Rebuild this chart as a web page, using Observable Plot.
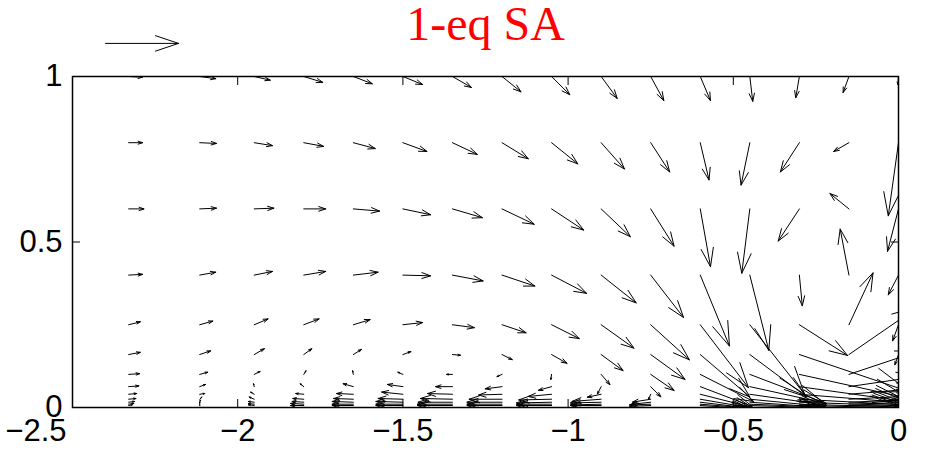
<!DOCTYPE html>
<html><head><meta charset="utf-8">
<script src="https://cdn.jsdelivr.net/npm/d3@7"></script>
<script src="https://cdn.jsdelivr.net/npm/@observablehq/plot@0.6"></script>
<style>body{margin:0;background:#fff} svg{display:block}</style>
</head><body><div id="chart"></div>
<script>
const title = "1-eq SA";
const xTicks = [-2.5, -2, -1.5, -1, -0.5, 0];
const yTicks = [0, 0.5, 1];
const xCols = [-2.33, -2.115, -1.95, -1.8, -1.65, -1.5, -1.35, -1.2, -1.05, -0.9, -0.75, -0.6, -0.45, -0.3, -0.15, 0];
const yRows = [1, 0.8, 0.6, 0.4, 0.25, 0.16, 0.1, 0.063, 0.04, 0.025, 0.016, 0.01, 0.006];
// velocity components, in units of the reference arrow (top-left)
const U = [
  [0.19,0.22,0.22,0.26,0.26,0.27,0.26,0.26,0.25,0.22,0.18,0.14,0.04,-0.05,-0.08,-0.01],
  [0.19,0.23,0.25,0.27,0.30,0.33,0.34,0.36,0.36,0.32,0.26,0.12,-0.12,-0.26,-0.21,-0.14],
  [0.21,0.23,0.27,0.30,0.36,0.38,0.41,0.44,0.44,0.40,0.32,0.14,-0.11,-0.29,-0.26,-0.15],
  [0.19,0.22,0.25,0.30,0.34,0.38,0.42,0.45,0.48,0.48,0.45,0.40,0.26,0.04,-0.12,-0.14],
  [0.16,0.18,0.19,0.21,0.23,0.27,0.30,0.33,0.38,0.45,0.53,0.66,0.75,0.66,0.33,-0.08],
  [0.16,0.15,0.14,0.11,0.11,0.11,0.11,0.14,0.21,0.30,0.47,0.68,0.78,1.51,0.96,-0.05],
  [0.15,0.11,0.08,0.03,-0.01,-0.07,-0.08,-0.07,-0.01,0.12,0.32,0.73,1.00,1.51,0.96,0.41],
  [0.14,0.08,-0.01,-0.05,-0.14,-0.21,-0.23,-0.23,-0.18,-0.05,0.14,0.71,1.05,1.51,0.96,0.41],
  [0.11,0.07,-0.05,-0.11,-0.23,-0.29,-0.34,-0.32,-0.32,-0.19,-0.03,0.71,1.05,1.51,0.96,0.41],
  [0.10,0.03,-0.07,-0.15,-0.27,-0.34,-0.44,-0.45,-0.45,-0.40,-0.25,0.70,1.04,1.51,0.96,0.41],
  [0.08,0.01,-0.08,-0.16,-0.29,-0.37,-0.47,-0.48,-0.48,-0.42,-0.27,0.67,1.01,1.48,0.96,0.41],
  [0.07,0.00,-0.08,-0.18,-0.29,-0.37,-0.48,-0.48,-0.48,-0.42,-0.29,0.64,0.99,1.45,0.93,0.41],
  [0.05,0.00,-0.08,-0.18,-0.29,-0.37,-0.48,-0.48,-0.48,-0.42,-0.29,0.62,0.96,1.42,0.90,0.41]
];
const V = [
  [-0.01,-0.03,-0.05,-0.08,-0.10,-0.11,-0.15,-0.21,-0.25,-0.30,-0.33,-0.33,-0.34,-0.29,-0.22,-0.11],
  [0.00,-0.01,-0.04,-0.05,-0.08,-0.12,-0.16,-0.22,-0.29,-0.36,-0.40,-0.51,-0.58,-0.40,-0.12,-1.00],
  [0.00,0.01,0.01,0.00,-0.03,-0.08,-0.12,-0.21,-0.29,-0.38,-0.51,-0.79,-0.88,-0.44,0.21,-0.58],
  [0.01,0.04,0.05,0.05,0.04,-0.01,-0.08,-0.15,-0.25,-0.38,-0.58,-0.97,-1.03,-0.42,0.63,-0.27],
  [0.04,0.05,0.08,0.08,0.07,0.03,-0.04,-0.11,-0.19,-0.32,-0.48,-0.86,-0.95,-0.42,0.71,-0.22],
  [0.03,0.05,0.08,0.08,0.07,0.04,-0.01,-0.07,-0.12,-0.22,-0.34,-0.58,-0.58,-0.51,0.66,-0.14],
  [0.01,0.03,0.04,0.05,0.05,0.03,0.00,-0.03,-0.07,-0.14,-0.22,-0.37,-0.38,-0.33,0.32,0.00],
  [0.01,0.03,0.04,0.04,0.04,0.03,0.00,-0.03,-0.05,-0.10,-0.14,-0.27,-0.23,-0.21,0.14,0.00],
  [0.01,0.01,0.03,0.01,0.01,0.03,0.01,-0.01,-0.03,-0.04,-0.07,-0.18,-0.15,-0.12,0.08,0.00],
  [0.01,0.03,0.03,0.01,0.01,0.01,0.01,0.00,-0.01,-0.03,-0.04,-0.12,-0.10,-0.08,0.05,0.00],
  [0.01,0.03,0.01,0.01,0.01,0.01,0.00,0.00,-0.01,-0.01,-0.03,-0.08,-0.07,-0.05,0.04,0.00],
  [0.01,0.03,0.01,0.01,0.00,0.00,0.00,0.00,0.00,-0.01,-0.01,-0.05,-0.04,-0.04,0.03,0.00],
  [0.01,0.01,0.01,0.00,0.00,0.00,0.00,0.00,0.00,0.00,-0.01,-0.04,-0.03,-0.03,0.01,0.00]
];
const refX = [-2.4], refY = [1.1], refU = [1], refV = [0];
const arrowScale = 0.221; // data units drawn per velocity unit

const field = [];
yRows.forEach((y, i) => xCols.forEach((x, j) => field.push({x, y, u: U[i][j], v: V[i][j]})));
const ref = refX.map((x, i) => ({x, y: refY[i], u: refU[i], v: refV[i]}));

const fmt = d => (d < 0 ? "\u2212" : "") + String(Math.abs(d));

const arrowOpts = {
  x1: "x", y1: "y",
  x2: d => d.x + d.u * arrowScale,
  y2: d => d.y + d.v * arrowScale,
  stroke: "black", strokeWidth: 1,
  headLength: 400, headAngle: 37
};

const chart = Plot.plot({
  width: 932, height: 454,
  marginLeft: 72, marginRight: 34, marginTop: 76, marginBottom: 47,
  x: {domain: [-2.5, 0]},
  y: {domain: [0, 1]},
  style: {fontFamily: "'Liberation Sans', Arial, sans-serif", background: "white", color: "black"},
  marks: [
    Plot.arrow(field, {...arrowOpts, clip: true}),
    Plot.arrow(ref, arrowOpts),
    Plot.frame({stroke: "black", strokeWidth: 1.5}),
    Plot.axisX({ticks: xTicks, anchor: "bottom", tickSize: 8, dy: -8, tickFormat: () => "", label: null}),
    Plot.axisX({ticks: xTicks, anchor: "top", tickSize: 8, dy: 8, tickFormat: () => "", label: null}),
    Plot.axisY({ticks: yTicks, anchor: "left", tickSize: 8, dx: 8, tickFormat: () => "", label: null}),
    Plot.axisY({ticks: yTicks, anchor: "right", tickSize: 8, dx: -8, tickFormat: () => "", label: null}),
    Plot.axisX({ticks: xTicks.slice(1), anchor: "bottom", tickSize: 0, tickPadding: 11, fontSize: 31, tickFormat: fmt, label: null}),
    Plot.text(xTicks.slice(0, 1), {x: d => d, frameAnchor: "bottom", dy: 11, dx: -6, lineAnchor: "top", textAnchor: "end", fontSize: 31, text: fmt}),
    Plot.axisY({ticks: yTicks, anchor: "left", tickSize: 0, tickPadding: 10, fontSize: 31, tickFormat: fmt, label: null}),
    Plot.text([title], {frameAnchor: "top", dy: -37, lineAnchor: "bottom", fill: "red", fontSize: 48, fontFamily: "'Liberation Serif', 'Times New Roman', serif"})
  ]
});
document.getElementById("chart").appendChild(chart);
</script>
</body></html>
